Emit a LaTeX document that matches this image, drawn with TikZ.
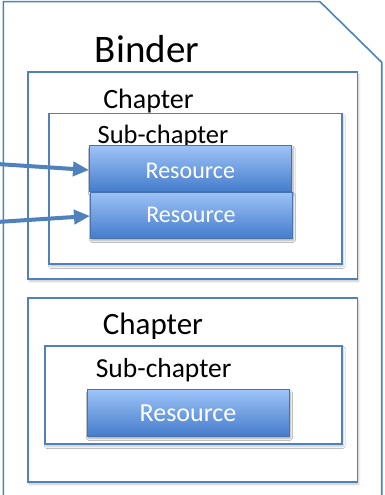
\documentclass[tikz,border=0pt]{standalone}
\usepackage{fontspec}
\setmainfont{Carlito}
\usetikzlibrary{arrows.meta,shadows.blur}
\definecolor{edge}{HTML}{4F81BD}
\definecolor{restop}{HTML}{9DC3F8}
\definecolor{resbot}{HTML}{457CCB}
\tikzset{
  frame/.style={draw=edge,line width=1.6pt,fill=white,blur shadow={shadow xshift=1.5pt,shadow yshift=-2.5pt,shadow blur steps=6,shadow opacity=22}},
  resbox/.style={draw=edge!90!black,line width=0.8pt,top color=restop,bottom color=resbot,blur shadow={shadow xshift=1.5pt,shadow yshift=-2.5pt,shadow blur steps=6,shadow opacity=35}},
  lbl/.style={anchor=base,inner sep=0pt,text=black},
  restext/.style={anchor=base,inner sep=0pt,text=white,font=\fontsize{24}{24}\selectfont},
  link/.style={draw=edge,line width=4pt,-{Triangle[length=16pt,width=14pt]}}
}
\begin{document}
\begin{tikzpicture}[x=1pt,y=-1pt]
\useasboundingbox (0,0) rectangle (384,495);
\begin{scope}
\clip (0,0) rectangle (384,495);
\draw[edge,line width=1.6pt] (3.3,520) -- (3.3,1.7) -- (320,1.7) -- (381.7,62.3) -- (381.7,520);
\end{scope}
\node[lbl,font=\fontsize{39}{39}\selectfont] (binder) at (147,63) {Binder};
% Chapter 1
\path[frame] (27.7,72) rectangle (357.3,279);
\node[lbl,font=\fontsize{28}{28}\selectfont] (ch1) at (148.5,108) {Chapter};
\path[frame] (48.7,113.3) rectangle (341.7,264);
\node[lbl,font=\fontsize{26.5}{26.5}\selectfont] (sub1) at (163,143) {Sub-chapter};
\path[resbox] (89,145.7) rectangle (291.7,191.7);
\coordinate (r1w) at (89,170);
\node[restext] (res1) at (190.3,178) {Resource};
\path[resbox] (90,192) rectangle (292,238);
\coordinate (r2w) at (90,216);
\node[restext] (res2) at (191,222.7) {Resource};
% Chapter 2
\path[frame] (27.7,298) rectangle (357.3,482);
\node[lbl,font=\fontsize{31}{31}\selectfont] (ch2) at (153,334) {Chapter};
\path[frame] (44.7,345.7) rectangle (341.7,444);
\node[lbl,font=\fontsize{27.5}{27.5}\selectfont] (sub2) at (163.7,377.7) {Sub-chapter};
\path[resbox] (87,389.7) rectangle (289,436);
\node[restext,font=\fontsize{26}{26}\selectfont] (res3) at (188,421.7) {Resource};
% arrows
\coordinate (a1) at (-3,164);
\coordinate (a2) at (-3,222);
\draw[link] (a1) -- (r1w);
\draw[link] (a2) -- (r2w);
\end{tikzpicture}
\end{document}
